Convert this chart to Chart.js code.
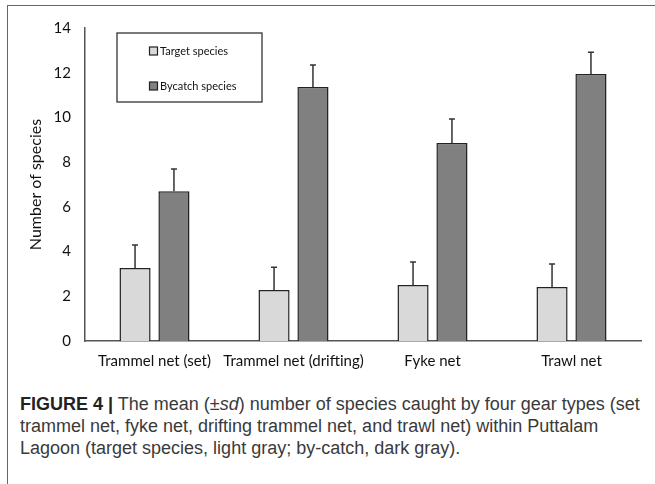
<!DOCTYPE html>
<html>
<head>
<meta charset="utf-8">
<script src="https://cdn.jsdelivr.net/npm/chart.js@4"></script>
<style>
  html, body { margin: 0; padding: 0; background: #fff; width: 655px; height: 484px; overflow: hidden; }
  #frame { position: absolute; left: 7px; top: 5px; width: 648px; height: 479px;
           border-top: 1.5px solid #666; border-left: 1.5px solid #666; }
  #chart { position: absolute; left: 0; top: 0; }
  #caption { position: absolute; left: 20px; top: 393px; width: 640px; white-space: nowrap;
             font-family: "Liberation Sans", Arial, sans-serif;
             font-size: 18px; line-height: 22px; color: #3a3a3a; }
  #caption b { color: #222; }
</style>
</head>
<body>
<div id="frame"></div>
<canvas id="chart" width="655" height="380"></canvas>
<div id="caption"><b>FIGURE 4 |</b> The mean (±<i>sd</i>) number of species caught by four gear types (set<br>trammel net, fyke net, drifting trammel net, and trawl net) within Puttalam<br>Lagoon (target species, light gray; by-catch, dark gray).</div>

<script>
// 漁具類別
const gearTypes = ['Trammel net (set)', 'Trammel net (drifting)', 'Fyke net', 'Trawl net'];
// 平均物種數
const targetMean = [3.27, 2.28, 2.5, 2.41];
const bycatchMean = [6.7, 11.36, 8.86, 11.94];
// 標準差
const targetSd = [1.02, 1.02, 1.03, 1.03];
const bycatchSd = [0.99, 0.98, 1.07, 0.98];
// y 軸刻度
const yTicks = [0, 2, 4, 6, 8, 10, 12, 14];

const FONT = 'Lato, "Open Sans", sans-serif';

// 誤差線
const errorBars = {
    id: 'errorBars',
    afterDatasetsDraw(chart) {
        const ctx = chart.ctx;
        const yScale = chart.scales.y;
        ctx.save();
        ctx.strokeStyle = '#333';
        ctx.lineWidth = 1.5;
        chart.data.datasets.forEach((ds, i) => {
            const meta = chart.getDatasetMeta(i);
            meta.data.forEach((bar, j) => {
                const top = yScale.getPixelForValue(ds.data[j] + ds.sd[j]);
                ctx.beginPath();
                ctx.moveTo(bar.x, bar.y);
                ctx.lineTo(bar.x, top);
                ctx.moveTo(bar.x - 3, top);
                ctx.lineTo(bar.x + 3, top);
                ctx.stroke();
            });
        });
        ctx.restore();
    }
};

// 圖例方框
const boxLegend = {
    id: 'boxLegend',
    afterDraw(chart) {
        const ctx = chart.ctx;
        ctx.save();
        ctx.strokeStyle = '#333';
        ctx.lineWidth = 1.3;
        ctx.strokeRect(117, 33, 145, 69);
        ctx.font = '11px ' + FONT;
        ctx.textBaseline = 'middle';
        const rows = [51, 86];
        chart.data.datasets.forEach((ds, i) => {
            const y = rows[i];
            ctx.fillStyle = ds.backgroundColor;
            ctx.fillRect(149.5, y - 4, 8, 8);
            ctx.lineWidth = 1.2;
            ctx.strokeStyle = '#222';
            ctx.strokeRect(149.5, y - 4, 8, 8);
            ctx.fillStyle = '#111';
            ctx.fillText(ds.label, 160, y);
        });
        ctx.restore();
    }
};

new Chart(document.getElementById('chart'), {
    type: 'bar',
    data: {
        labels: gearTypes,
        datasets: [
            {
                label: 'Target species',
                data: targetMean,
                sd: targetSd,
                backgroundColor: '#d9d9d9',
                borderColor: '#222',
                borderWidth: 1.5
            },
            {
                label: 'Bycatch species',
                data: bycatchMean,
                sd: bycatchSd,
                backgroundColor: '#808080',
                borderColor: '#222',
                borderWidth: 1.5
            }
        ]
    },
    options: {
        responsive: false,
        animation: false,
        layout: { padding: { top: 28, right: 14, bottom: 0, left: 0 } },
        categoryPercentage: 0.56,
        barPercentage: 0.8,
        plugins: {
            legend: { display: false },
            tooltip: { enabled: false }
        },
        scales: {
            x: {
                grid: { display: false, drawTicks: false },
                border: { color: '#555', width: 1.5 },
                ticks: { color: '#111', font: { family: FONT, size: 15 }, padding: 11, maxRotation: 0, autoSkip: false },
                afterFit(scale) { scale.height = 39; }
            },
            y: {
                min: 0,
                max: 14,
                afterBuildTicks(scale) { scale.ticks = yTicks.map(v => ({ value: v })); },
                grid: { display: false, drawTicks: false },
                border: { color: '#555', width: 1.5 },
                ticks: { color: '#111', font: { family: FONT, size: 15 }, padding: 14 },
                title: {
                    display: true,
                    text: 'Number of species',
                    color: '#111',
                    font: { family: FONT, size: 16 },
                    padding: { top: 26, bottom: 0 }
                },
                afterFit(scale) { scale.width = 85; }
            }
        }
    },
    plugins: [errorBars, boxLegend]
});
</script>
</body>
</html>
